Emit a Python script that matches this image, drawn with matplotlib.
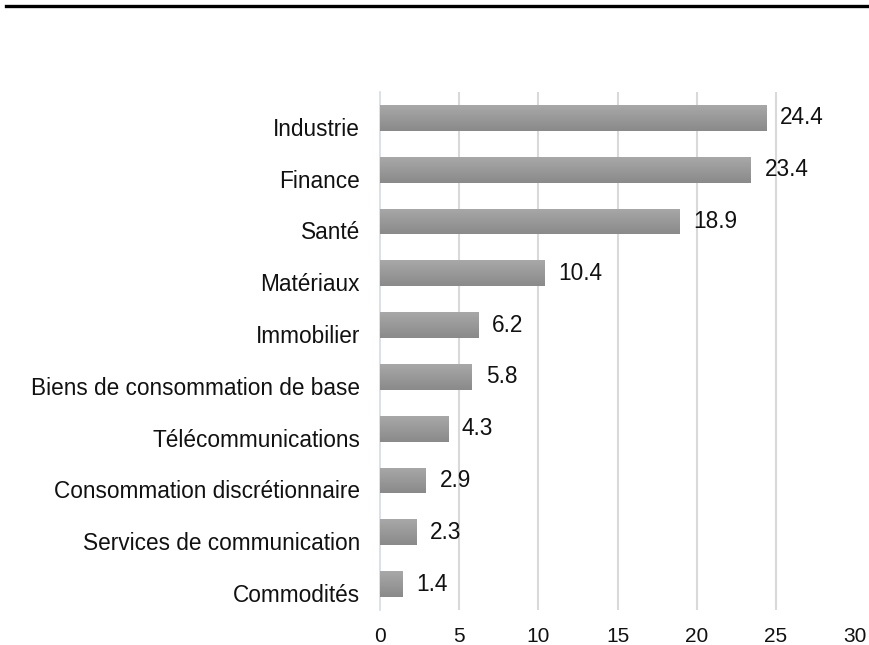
import numpy as np
import matplotlib.pyplot as plt
from matplotlib.lines import Line2D
from matplotlib.colors import LinearSegmentedColormap
from matplotlib.transforms import ScaledTranslation

plt.rcParams['font.family'] = ['Liberation Sans', 'DejaVu Sans']

categories = ["Industrie", "Finance", "Santé", "Matériaux", "Immobilier",
              "Biens de consommation de base", "Télécommunications",
              "Consommation discrétionnaire", "Services de communication",
              "Commodités"]
values = [24.4, 23.4, 18.9, 10.4, 6.2, 5.8, 4.3, 2.9, 2.3, 1.4]
xticks = [0, 5, 10, 15, 20, 25, 30]

fs = 16.3
fig = plt.figure(figsize=(8.7, 6.45), dpi=100)
ax = fig.add_axes([0.4368, 0.0543, 0.546, 0.8031])

y = np.arange(len(categories))[::-1]
bars = ax.barh(y, values, height=0.5, color='#999999', zorder=2)

# vertical gradient inside each bar
cmap = LinearSegmentedColormap.from_list('g', ['#8a8a8a', '#a8a8a8'])
grad = np.linspace(0, 1, 50).reshape(-1, 1)
for b in bars:
    x0, y0 = b.get_x(), b.get_y()
    w, h = b.get_width(), b.get_height()
    im = ax.imshow(grad, extent=[x0, x0 + w, y0, y0 + h], origin='lower',
                   cmap=cmap, aspect='auto', zorder=3)
    im.set_clip_path(b)

for yi, v in zip(y, values):
    ax.annotate(f"{v}", (v, yi), xytext=(10, 0), textcoords='offset points',
                ha='left', va='center', fontsize=fs, color='#111111')

ax.set_xlim(0, 30)
ax.set_ylim(-0.5, len(categories) - 0.5)
ax.set_xticks(xticks)
ax.set_xticklabels([str(t) for t in xticks])
ax.set_yticks(y)
ax.set_yticklabels(categories)
for t in xticks[1:-1]:
    ax.axvline(t, color='#d9d9d9', linewidth=1.5, zorder=0)
ax.tick_params(axis='both', length=0, colors='#111111')
ax.tick_params(axis='x', pad=12.5, labelsize=15)
ax.tick_params(axis='y', pad=14.4, labelsize=fs)
for s in ['top', 'right', 'bottom']:
    ax.spines[s].set_visible(False)
ax.spines['left'].set_color('#d6dce5')
ax.spines['left'].set_linewidth(1.2)

off = ScaledTranslation(0, -9 / 100, fig.dpi_scale_trans)
for lab in ax.get_yticklabels():
    lab.set_transform(lab.get_transform() + off)

fig.add_artist(Line2D([6 / 870, 1], [1 - 5.5 / 645, 1 - 5.5 / 645],
                      color='black', linewidth=2.4, transform=fig.transFigure))

fig.savefig('out.png', dpi=100)
